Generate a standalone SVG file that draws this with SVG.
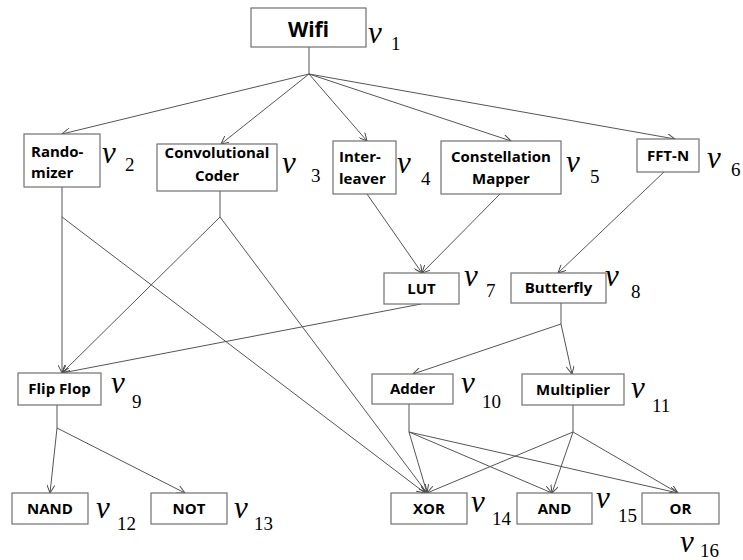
<svg xmlns="http://www.w3.org/2000/svg" width="743" height="560" viewBox="0 0 743 560">
<defs>
<marker id="ah" viewBox="0 0 10 10" refX="10" refY="5" markerWidth="9" markerHeight="8" markerUnits="userSpaceOnUse" orient="auto">
<path d="M0,0 L10,5 L0,10" fill="none" stroke="#444" stroke-width="1.2"/>
</marker>
<style>
rect{fill:#fff;stroke:#707070;stroke-width:1.2}
.t{font-family:"Open Sans","DejaVu Sans",sans-serif;font-weight:700;font-size:15px;fill:#000;text-anchor:middle}
.l{text-anchor:start}
.v{font-family:"Liberation Serif","Times New Roman",serif;font-style:italic;font-size:31px;fill:#000}
.s{font-family:"Liberation Serif","Times New Roman",serif;font-size:19px;fill:#000}
#edges line{stroke:#555;stroke-width:1;fill:none}
.a{marker-end:url(#ah)}
</style>
</defs>
<rect x="0" y="0" width="743" height="560" style="fill:#fff;stroke:none"/>
<g id="edges">
<line x1="309" y1="47" x2="309" y2="74"/>
<line class="a" x1="309" y1="74" x2="62" y2="134"/>
<line class="a" x1="309" y1="74" x2="221" y2="144"/>
<line class="a" x1="309" y1="74" x2="367" y2="141"/>
<line class="a" x1="309" y1="74" x2="511" y2="141"/>
<line class="a" x1="309" y1="74" x2="675" y2="139"/>
<line x1="62" y1="187" x2="62" y2="217"/>
<line class="a" x1="62" y1="217" x2="62" y2="373"/>
<line class="a" x1="62" y1="217" x2="425" y2="493"/>
<line x1="220" y1="191" x2="220" y2="217"/>
<line class="a" x1="220" y1="217" x2="62" y2="373"/>
<line class="a" x1="220" y1="217" x2="427" y2="493"/>
<line class="a" x1="367" y1="194" x2="422" y2="273"/>
<line class="a" x1="500" y1="194" x2="422" y2="273"/>
<line class="a" x1="421" y1="304" x2="62" y2="373"/>
<line class="a" x1="665" y1="171" x2="558" y2="273"/>
<line x1="561" y1="303" x2="561" y2="324"/>
<line class="a" x1="561" y1="324" x2="413" y2="374"/>
<line class="a" x1="561" y1="324" x2="572" y2="374"/>
<line x1="57" y1="405" x2="57" y2="428"/>
<line class="a" x1="57" y1="428" x2="50" y2="493"/>
<line class="a" x1="57" y1="428" x2="185" y2="493"/>
<line x1="409" y1="404" x2="409" y2="432"/>
<line class="a" x1="409" y1="432" x2="427" y2="493"/>
<line class="a" x1="409" y1="432" x2="552" y2="493"/>
<line class="a" x1="409" y1="432" x2="678" y2="493"/>
<line x1="573" y1="405" x2="573" y2="432"/>
<line class="a" x1="573" y1="432" x2="427" y2="493"/>
<line class="a" x1="573" y1="432" x2="552" y2="493"/>
<line class="a" x1="573" y1="432" x2="678" y2="493"/>
</g>
<g id="v1"><rect x="251" y="8" width="115" height="39"/><text class="t" x="308.5" y="37" style="font-size:21px">Wifi</text><text class="v" x="368" y="43">v</text><text class="s" x="391" y="50">1</text></g>
<g id="v2"><rect x="24" y="134" width="76" height="53"/><text class="t l" x="31" y="157">Rando-</text><text class="t l" x="31" y="178">mizer</text><text class="v" x="102" y="163">v</text><text class="s" x="125" y="171">2</text></g>
<g id="v3"><rect x="157" y="144" width="120" height="47"/><text class="t" x="217" y="158">Convolutional</text><text class="t" x="217" y="181">Coder</text><text class="v" x="282" y="173">v</text><text class="s" x="311" y="182">3</text></g>
<g id="v4"><rect x="333" y="141" width="63" height="53"/><text class="t l" x="339" y="162">Inter-</text><text class="t l" x="339" y="184">leaver</text><text class="v" x="397" y="173">v</text><text class="s" x="421" y="185">4</text></g>
<g id="v5"><rect x="441" y="141" width="120" height="53"/><text class="t" x="501" y="162">Constellation</text><text class="t" x="501" y="184">Mapper</text><text class="v" x="566" y="172">v</text><text class="s" x="590" y="183">5</text></g>
<g id="v6"><rect x="637" y="139" width="62" height="33"/><text class="t" x="668" y="161">FFT-N</text><text class="v" x="707" y="168">v</text><text class="s" x="731" y="176">6</text></g>
<g id="v7"><rect x="384" y="273" width="75" height="31"/><text class="t" x="421.5" y="294">LUT</text><text class="v" x="464" y="286">v</text><text class="s" x="486" y="297">7</text></g>
<g id="v8"><rect x="511" y="273" width="95" height="30"/><text class="t" x="558.5" y="293">Butterfly</text><text class="v" x="605" y="286">v</text><text class="s" x="631" y="298">8</text></g>
<g id="v9"><rect x="18" y="373" width="83" height="32"/><text class="t" x="59.5" y="394">Flip Flop</text><text class="v" x="111" y="393">v</text><text class="s" x="132" y="408">9</text></g>
<g id="v10"><rect x="372" y="374" width="81" height="30"/><text class="t" x="412.5" y="394">Adder</text><text class="v" x="461" y="393">v</text><text class="s" x="482" y="408">10</text></g>
<g id="v11"><rect x="522" y="374" width="102" height="31"/><text class="t" x="573" y="395">Multiplier</text><text class="v" x="631" y="398">v</text><text class="s" x="652" y="412">11</text></g>
<g id="v12"><rect x="12" y="493" width="76" height="31"/><text class="t" x="50" y="514">NAND</text><text class="v" x="96" y="518">v</text><text class="s" x="117" y="530">12</text></g>
<g id="v13"><rect x="151" y="493" width="76" height="31"/><text class="t" x="189" y="514">NOT</text><text class="v" x="234" y="518">v</text><text class="s" x="254" y="530">13</text></g>
<g id="v14"><rect x="391" y="493" width="76" height="31"/><text class="t" x="429" y="514">XOR</text><text class="v" x="471" y="512">v</text><text class="s" x="492" y="525">14</text></g>
<g id="v15"><rect x="517" y="493" width="75" height="31"/><text class="t" x="554.5" y="514">AND</text><text class="v" x="596" y="508">v</text><text class="s" x="618" y="522">15</text></g>
<g id="v16"><rect x="642" y="493" width="77" height="31"/><text class="t" x="680.5" y="514">OR</text><text class="v" x="680" y="552">v</text><text class="s" x="700" y="557">16</text></g>
</svg>
